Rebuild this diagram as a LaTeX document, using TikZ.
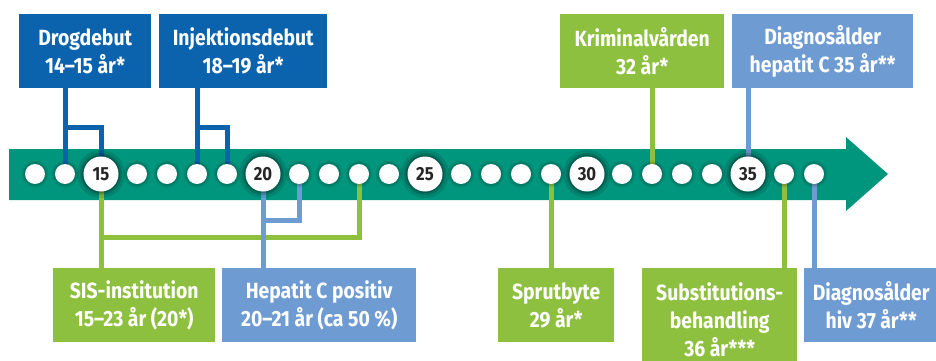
\documentclass[tikz,border=0pt]{standalone}
\usepackage{fontspec}
\setmainfont{Fira Sans}[FakeStretch=0.88]
\definecolor{dblue}{HTML}{0B63AE}
\definecolor{lgreen}{HTML}{8EC03F}
\definecolor{lblue}{HTML}{6F9BD3}
\definecolor{band}{HTML}{00967D}
\pgfdeclarelayer{bg}
\pgfdeclarelayer{lines}
\pgfsetlayers{bg,lines,main}
\begin{document}
\begin{tikzpicture}[x=1pt,y=-1pt,
  box/.style={inner sep=0pt, align=center, text=white, anchor=north west,
    font=\fontsize{22}{28}\selectfont\bfseries, minimum height=74pt},
  dot/.style={circle, fill=white, inner sep=0pt, minimum size=20pt,
    preaction={draw=black, opacity=0.08, line width=7pt},
    preaction={draw=black, opacity=0.12, line width=3.5pt}},
  bigdot/.style={circle, fill=white, inner sep=0pt, minimum size=35pt,
    font=\fontsize{19}{19}\selectfont\bfseries, text=black!85,
    preaction={draw=black, opacity=0.10, line width=13pt},
    preaction={draw=black, opacity=0.15, line width=7pt},
    preaction={draw=black, opacity=0.2, line width=3pt}},
  conn/.style={line width=5pt},
]
\useasboundingbox (0,0) rectangle (936,361);
% band arrow
\begin{pgfonlayer}{bg}
\fill[band] (9,149) -- (846,149) -- (846,137) -- (888,174) -- (846,211) -- (846,200) -- (9,200) -- cycle;
\end{pgfonlayer}
% dots
\foreach \a/\x in {13/35,14/65,16/137,17/167,18/197,19/227,21/299,22/329,23/359,24/389,
                   26/461,27/491,28/521,29/551,31/622,32/652,33/682,34/712,36/784,37/814}
  \node[dot] (d\a) at (\x,174) {};
\foreach \a/\x in {15/101,20/263,25/425,30/587,35/748}
  \node[bigdot] (d\a) at (\x,174) {\a};
% boxes
\node[box, fill=dblue, minimum width=132pt] (drog) at (19,14) {Drogdebut\\14–15 år*};
\node[box, fill=dblue, minimum width=168pt] (inj) at (159,14) {Injektionsdebut\\18–19 år*};
\node[box, fill=lgreen, minimum width=164pt] (krim) at (560,14) {Kriminalvården\\32 år*};
\node[box, fill=lblue, minimum width=181pt] (diagc) at (732,14) {Diagnosålder\\hepatit C 35 år**};
\node[box, fill=lgreen, minimum width=162pt] (sis) at (53,268) {SIS-institution\\15–23 år (20*)};
\node[box, fill=lblue, minimum width=194pt] (hep) at (222,268) {Hepatit C positiv\\20–21 år (ca 50 \%)};
\node[box, fill=lgreen, minimum width=116pt] (sprut) at (498,268) {Sprutbyte\\29 år*};
\node[box, fill=lgreen, minimum width=155pt, minimum height=104pt] (subst) at (642,268) {Substitutions-\\behandling\\36 år***};
\node[box, fill=lblue, minimum width=134pt] (diaghiv) at (804,268) {Diagnosålder\\hiv 37 år**};
% connectors
\coordinate (t1) at (0,127);
\coordinate (b1) at (0,220);
\coordinate (b2) at (0,237);
\begin{pgfonlayer}{lines}
\draw[conn, dblue] (drog.south -| d14) -- (d14.center);
\draw[conn, dblue] (d14 |- t1) -| (d15.center);
\draw[conn, dblue] (inj.south -| d18) -- (d18.center);
\draw[conn, dblue] (d18 |- t1) -| (d19.center);
\draw[conn, lgreen] (krim.south -| d32) -- (d32.center);
\draw[conn, lblue] (diagc.south -| d35) -- (d35.center);
\draw[conn, lgreen] (d15.center) -- (sis.north -| d15);
\draw[conn, lgreen] (d15 |- b2) -| (d23.center);
\draw[conn, lblue] (d20.center) -- (hep.north -| d20);
\draw[conn, lblue] (d20 |- b1) -| (d21.center);
\draw[conn, lgreen] (d29.center) -- (sprut.north -| d29);
\draw[conn, lgreen] (d36.center) -- (subst.north -| d36);
\draw[conn, lblue] (d37.center) -- (diaghiv.north -| d37);
\end{pgfonlayer}
\end{tikzpicture}
\end{document}
